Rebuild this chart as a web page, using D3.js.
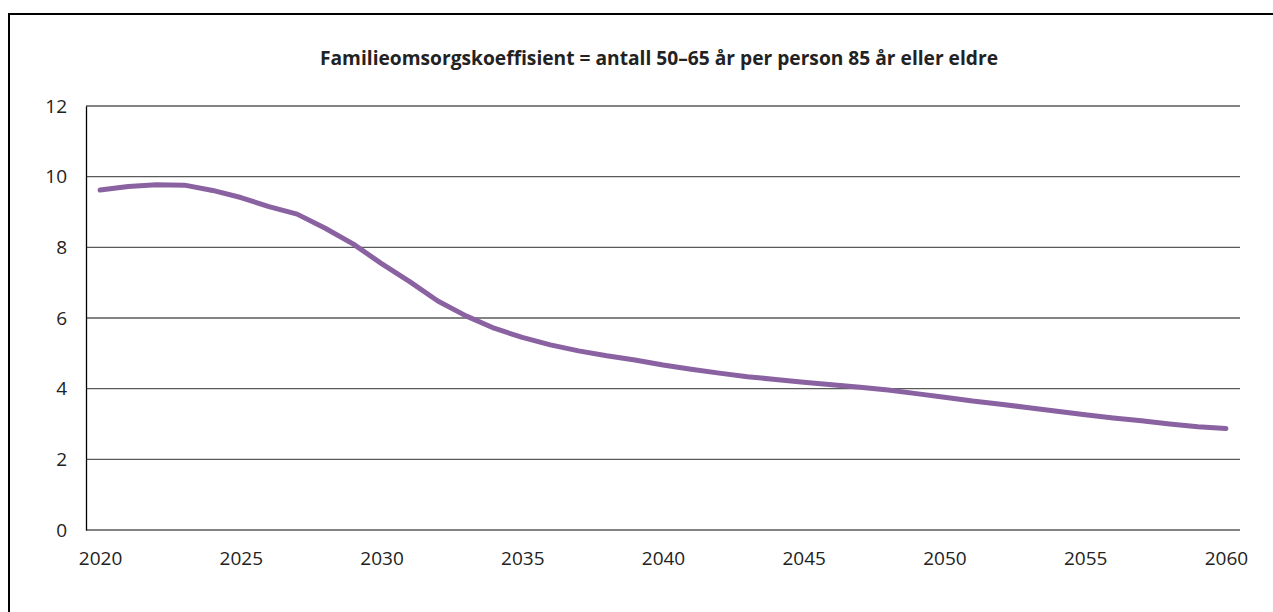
<!DOCTYPE html>
<html>
<head>
<meta charset="utf-8">
<script src="https://cdn.jsdelivr.net/npm/d3@7"></script>
<style>
  html, body { margin: 0; padding: 0; background: #fff; }
  svg { display: block; }
</style>
</head>
<body>
<svg id="chart" width="1273" height="612"></svg>
<script>
const years = d3.range(2020, 2061);
const values = [
  9.62, 9.72, 9.77, 9.76, 9.61, 9.41, 9.15, 8.94, 8.54, 8.09,
  7.54, 7.03, 6.48, 6.06, 5.71, 5.45, 5.24, 5.07, 4.93, 4.81,
  4.67, 4.55, 4.44, 4.34, 4.26, 4.18, 4.11, 4.04, 3.96, 3.86,
  3.76, 3.65, 3.56, 3.46, 3.36, 3.26, 3.17, 3.09, 3.00, 2.92, 2.87
];
const xTickLabels = [2020, 2025, 2030, 2035, 2040, 2045, 2050, 2055, 2060];
const yTicks = [0, 2, 4, 6, 8, 10, 12];
const title = "Familieomsorgskoeffisient = antall 50–65 år per person 85 år eller eldre";

const svg = d3.select("#chart");
const plotLeft = 86, plotRight = 1240, plotTop = 106, plotBottom = 530;

// outer frame
svg.append("rect")
  .attr("x", 9).attr("y", 14)
  .attr("width", 1300).attr("height", 700)
  .attr("fill", "none").attr("stroke", "#000").attr("stroke-width", 2);

const x = d3.scalePoint().domain(years).range([plotLeft, plotRight]).padding(0.5);
const y = d3.scaleLinear().domain([0, 12]).range([plotBottom, plotTop]);

// gridlines
svg.append("g")
  .selectAll("line").data(yTicks).join("line")
  .attr("x1", plotLeft).attr("x2", plotRight)
  .attr("y1", d => y(d)).attr("y2", d => y(d))
  .attr("stroke", "#5a5a5a").attr("stroke-width", 1.3);

// y axis
const yAxis = svg.append("g")
  .attr("transform", `translate(${plotLeft},0)`)
  .call(d3.axisLeft(y).tickValues(yTicks).tickSize(0).tickPadding(19));
yAxis.select(".domain").attr("stroke", "#000").attr("stroke-width", 1.3);
yAxis.selectAll("text")
  .attr("font-family", "Open Sans").attr("font-size", 19).attr("fill", "#222");

// x axis
const xAxis = svg.append("g")
  .attr("transform", `translate(0,${plotBottom})`)
  .call(d3.axisBottom(x).tickValues(xTickLabels).tickSize(0).tickPadding(22).tickFormat(d3.format("d")));
xAxis.select(".domain").remove();
xAxis.selectAll("text")
  .attr("font-family", "Open Sans").attr("font-size", 19).attr("fill", "#222");

// line
const line = d3.line()
  .x((d, i) => x(years[i]))
  .y(d => y(d))
  .curve(d3.curveLinear);
svg.append("path")
  .datum(values)
  .attr("d", line)
  .attr("fill", "none")
  .attr("stroke", "#8a62a2")
  .attr("stroke-width", 5)
  .attr("stroke-linejoin", "round")
  .attr("stroke-linecap", "round");

// title
svg.append("text")
  .attr("x", 659).attr("y", 65)
  .attr("text-anchor", "middle")
  .attr("font-family", "Open Sans").attr("font-weight", "bold")
  .attr("font-size", 19.5).attr("fill", "#222")
  .attr("textLength", 678).attr("lengthAdjust", "spacingAndGlyphs")
  .text(title);
</script>
</body>
</html>
